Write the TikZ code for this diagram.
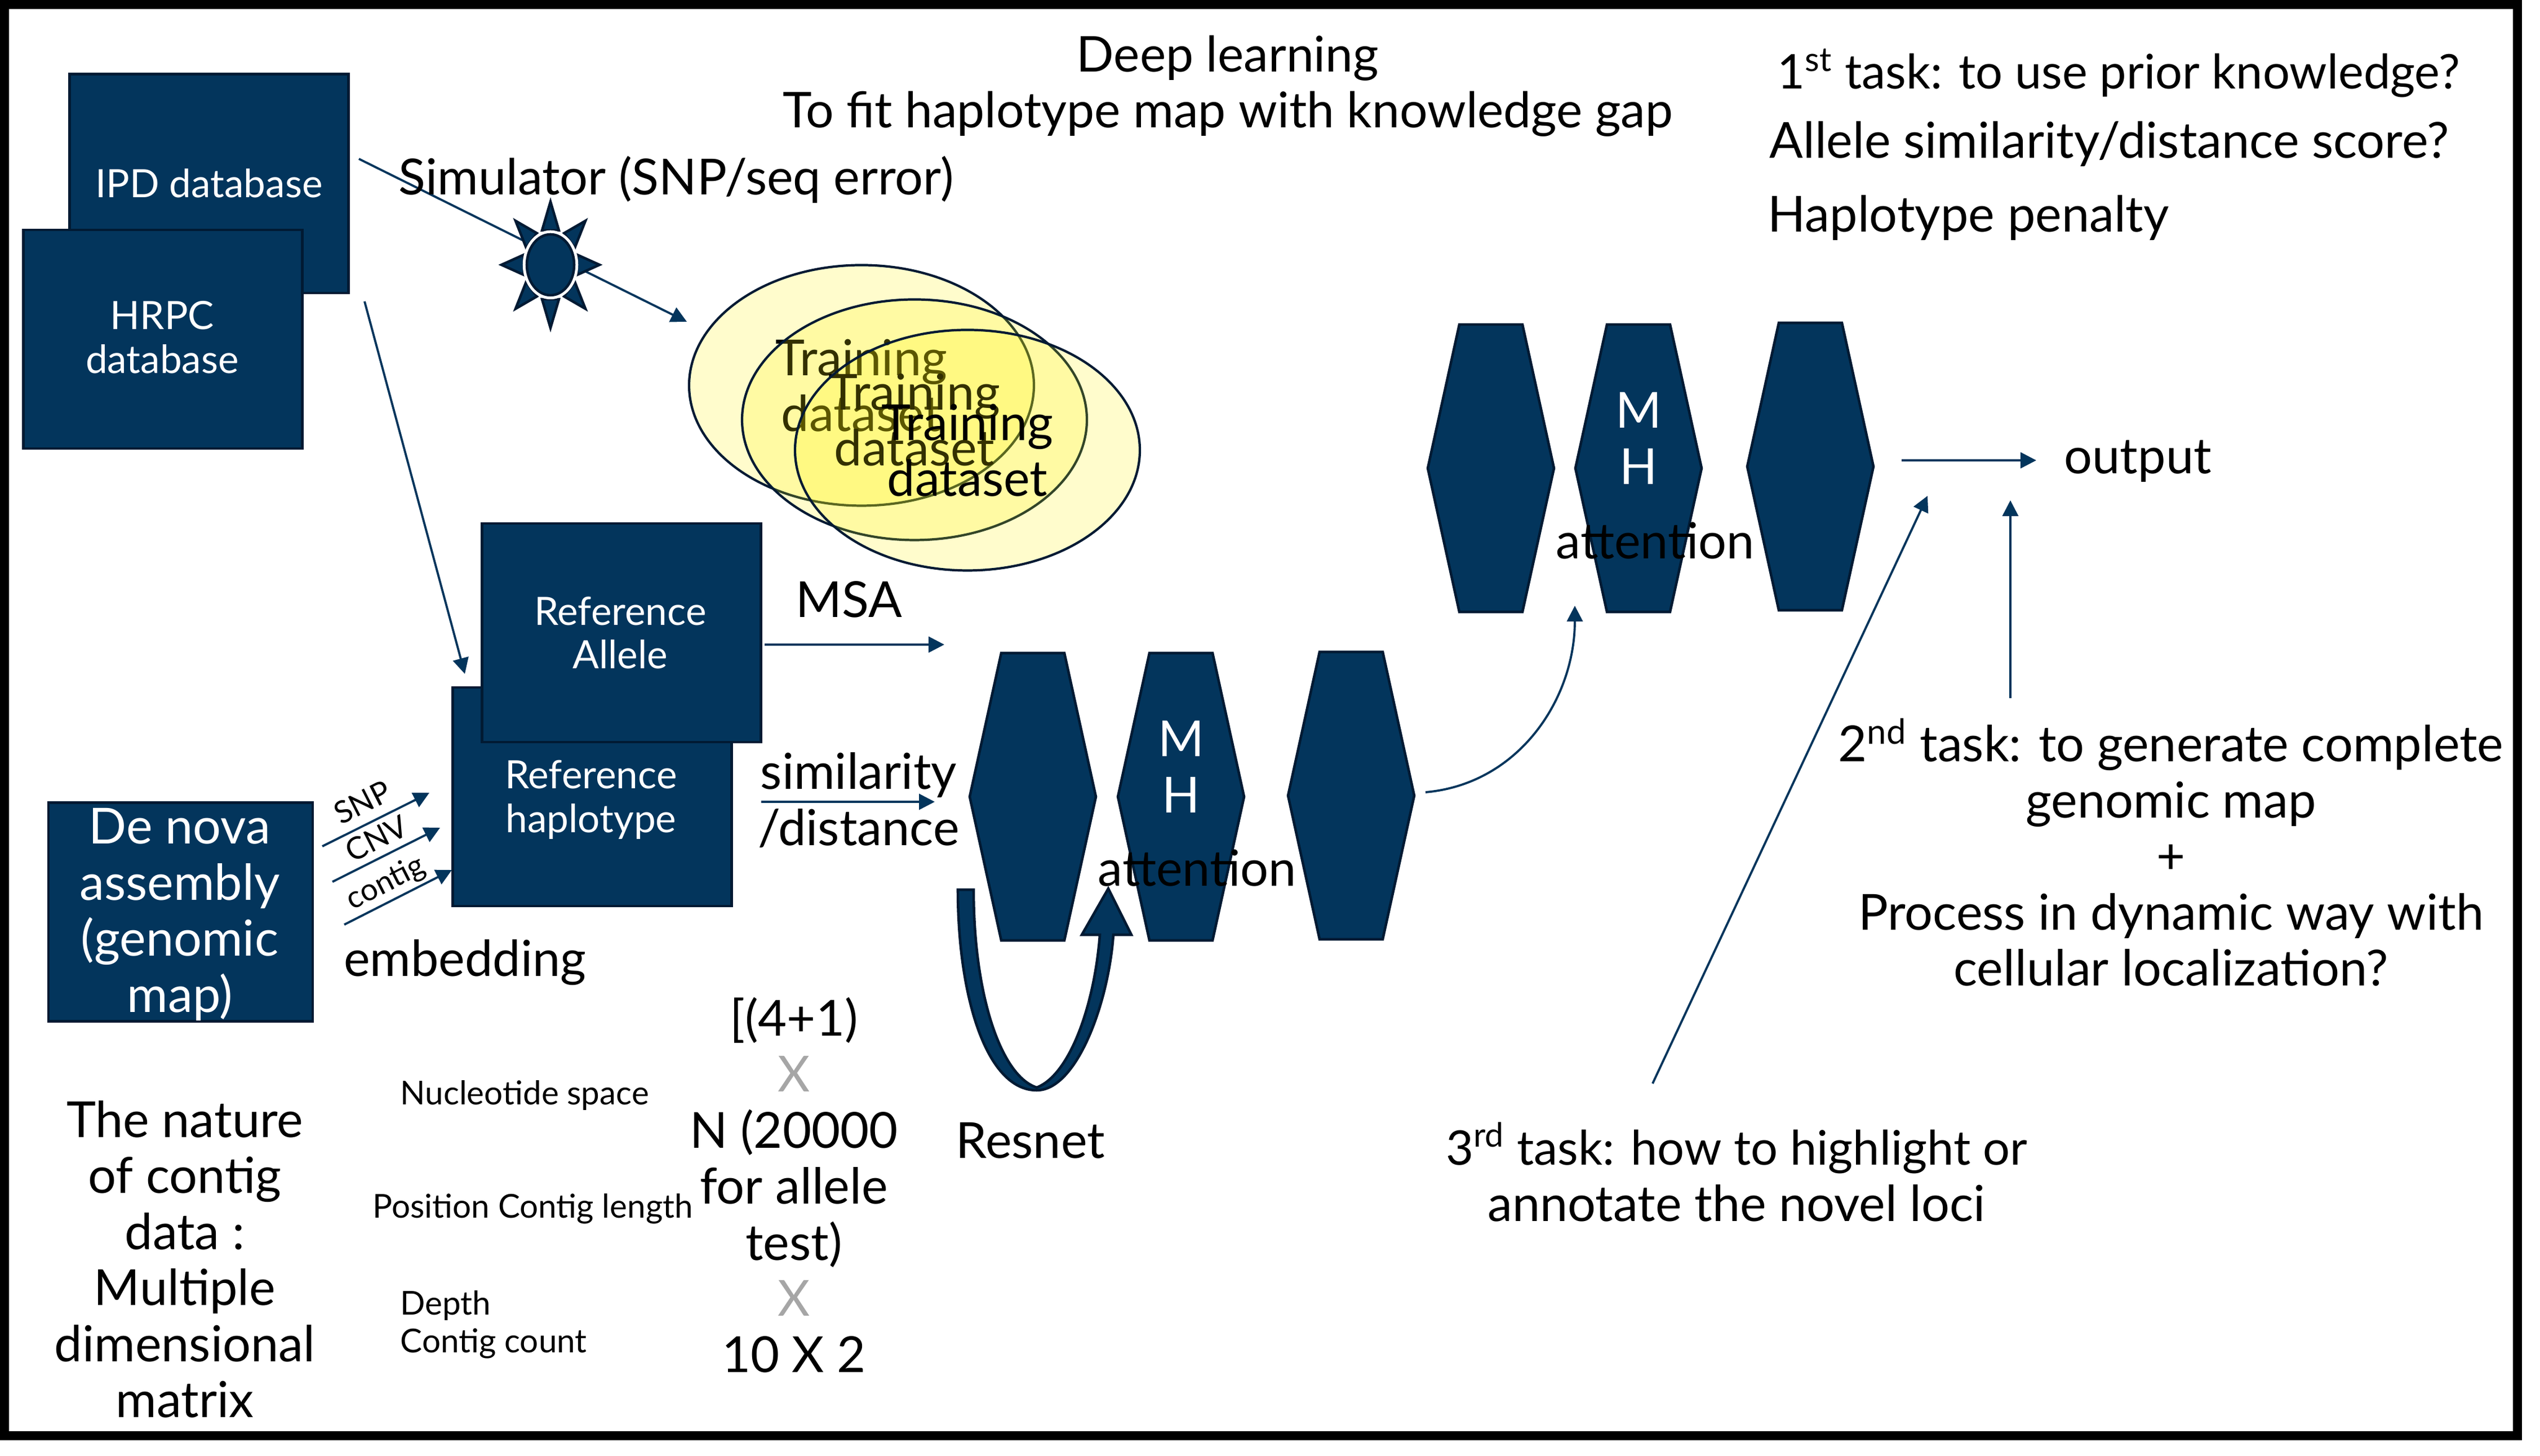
\documentclass[tikz,border=0pt]{standalone}
\usepackage{fontspec}
\setmainfont{Lato}
\usetikzlibrary{arrows.meta,shapes.geometric}
\definecolor{navy}{HTML}{03355C}
\definecolor{navyline}{HTML}{011A33}
\tikzset{
    bigtext/.style={text=black,align=center,inner sep=0pt,font=\fontsize{25.1}{28.3}\selectfont},
    midtext/.style={text=white,align=center,inner sep=0pt,font=\fontsize{19.7}{22.1}\selectfont},
    smalltext/.style={text=black,inner sep=0pt,font=\fontsize{16.6}{19}\selectfont},
    tilttext/.style={text=black,inner sep=0pt,rotate=27,font=\fontsize{15.5}{18}\selectfont},
    dbbox/.style={draw=navyline,fill=navy,line width=1.4pt,minimum width=4.95cm,minimum height=3.88cm,inner sep=0pt},
    trainset/.style={ellipse,draw=navyline,line width=1.2pt,fill=yellow,fill opacity=0.2,draw opacity=1,text opacity=1,
        minimum width=6.12cm,minimum height=4.27cm,inner sep=0pt,align=center,font=\fontsize{25.1}{28.3}\selectfont},
    link/.style={navy,line width=1.1pt,-{Triangle[length=0.28cm,width=0.28cm]}}
}
\begin{document}
\begin{tikzpicture}
    \useasboundingbox (0,0) rectangle (45.08,25.84);
    % Frame
    \draw[black,line width=0.16cm] (0.08,0.36) rectangle (44.68,25.76);

    % Simulator arrow goes behind the sun
    \coordinate (simstart) at (6.37,23.02);
    \coordinate (simend) at (12.19,20.13);
    \draw[link] (simstart) -- (simend);

    % Sun
    \begin{scope}[shift={(9.77,21.14)}]
        \foreach \sy in {1,-1} {
            \draw[navyline,fill=navy,line width=1.3pt,yscale=\sy] (0,1.12) -- (0.15,0.61) -- (-0.15,0.61) -- cycle;
        }
        \foreach \sx in {1,-1} {
            \draw[navyline,fill=navy,line width=1.3pt,xscale=\sx] (0.87,0) -- (0.47,0.18) -- (0.47,-0.18) -- cycle;
            \foreach \sy in {1,-1} {
                \draw[navyline,fill=navy,line width=1.3pt,xscale=\sx,yscale=\sy] (0.62,0.78) -- (0.24,0.56) -- (0.43,0.30) -- cycle;
            }
        }
        \draw[white,line width=3pt] (0,0) ellipse (0.44cm and 0.56cm);
        \draw[navyline,fill=navy,line width=1.3pt] (0,0) ellipse (0.42cm and 0.54cm);
    \end{scope}

    % Databases
    \node[dbbox] (ipd) at (3.71,22.58) {};
    \node[midtext] (ipdlabel) at (3.71,22.59) {IPD database};
    \node[dbbox] (hrpc) at (2.89,19.82) {};
    \node[midtext] (hrpclabel) at (2.88,19.85) {HRPC\\database};

    % Training sets, overlapping
    \node[trainset] (trainA) at (15.29,19.0) {Training\\dataset};
    \node[trainset] (trainB) at (16.23,18.39) {Training\\dataset};
    \node[trainset] (trainC) at (17.17,17.85) {Training\\dataset};

    % Reference boxes
    \node[dbbox] (haplo) at (10.51,11.70) {};
    \node[midtext] (haplolabel) at (10.49,11.65) {Reference\\haplotype};
    \node[dbbox] (allele) at (11.03,14.61) {};
    \node[midtext] (allelelabel) at (11.01,14.61) {Reference\\Allele};
    \node[dbbox,minimum width=4.69cm] (denova) at (3.205,9.655) {};
    \node[bigtext,text=white] (denovalabel) at (3.19,9.61) {De nova\\assembly\\(genomic\\map)};

    % Hexagon blocks
    \foreach \name/\cx/\cy in {hexA/18.33/11.70,hexB/20.96/11.70,hexC/23.98/11.72,hexD/26.46/17.53,hexE/29.08/17.53,hexF/32.13/17.56} {
        \coordinate (\name) at (\cx,\cy);
        \draw[navyline,fill=navy,line width=1.3pt] (\cx-1.12,\cy) -- (\cx-0.56,\cy+2.55) -- (\cx+0.56,\cy+2.55)
            -- (\cx+1.12,\cy) -- (\cx+0.56,\cy-2.55) -- (\cx-0.56,\cy-2.55) -- cycle;
    }
    \node[bigtext,text=white,yshift=0.53cm] (mhlow) at (hexB) {M\\H};
    \node[bigtext,text=white,yshift=0.53cm] (mhup) at (hexE) {M\\H};
    \node[bigtext] (attlow) at (21.25,10.43) {attention};
    \node[bigtext] (attup) at (29.38,16.24) {attention};

    % Resnet loop
    \draw[navyline,fill=navy,line width=1.3pt] (17.00,10.05) .. controls (17.00,8.17) and (17.50,6.49) .. (18.40,6.49)
        .. controls (19.10,6.49) and (19.67,8.01) .. (19.76,9.25) -- (20.08,9.25) -- (19.67,10.07) -- (19.20,9.25) -- (19.52,9.25)
        .. controls (19.43,8.04) and (19.00,6.77) .. (18.40,6.54) .. controls (17.77,6.74) and (17.28,8.17) .. (17.28,10.05) -- cycle;

    % Arrows
    \coordinate (dbstart) at (6.47,20.49);
    \coordinate (dbend) at (8.25,13.88);
    \draw[link] (dbstart) -- (dbend);
    \coordinate (snpstart) at (5.72,10.82);
    \coordinate (snpend) at (7.62,11.77);
    \draw[link] (snpstart) -- (snpend);
    \coordinate (cnvstart) at (5.90,10.19);
    \coordinate (cnvend) at (7.81,11.15);
    \draw[link] (cnvstart) -- (cnvend);
    \coordinate (contigstart) at (6.11,9.43);
    \coordinate (contigend) at (8.02,10.40);
    \draw[link] (contigstart) -- (contigend);
    \coordinate (msastart) at (13.57,14.40);
    \coordinate (msaend) at (16.76,14.40);
    \draw[link] (msastart) -- (msaend);
    \coordinate (simistart) at (13.51,11.61);
    \coordinate (simiend) at (16.59,11.61);
    \draw[link] (simistart) -- (simiend);
    \coordinate (hexout) at (25.30,11.78);
    \coordinate (hexin) at (27.95,15.09);
    \draw[link] (hexout) to[out=5,in=-90] (hexin);
    \coordinate (outstart) at (33.75,17.67);
    \coordinate (outend) at (36.14,17.67);
    \draw[link] (outstart) -- (outend);
    \coordinate (thirdstart) at (29.33,6.61);
    \coordinate (thirdend) at (34.21,17.04);
    \draw[link] (thirdstart) -- (thirdend);
    \coordinate (secondstart) at (35.68,13.45);
    \coordinate (secondend) at (35.68,16.96);
    \draw[link] (secondstart) -- (secondend);

    % Arrow labels
    \node[tilttext] (snp) at (6.43,11.60) {SNP};
    \node[tilttext] (cnv) at (6.68,10.96) {CNV};
    \node[tilttext] (contig) at (6.85,10.16) {contig};

    % Labels
    \node[bigtext,font=\fontsize{24.9}{28.3}\selectfont] (title) at (21.79,24.31) {Deep learning\\To fit haplotype map with knowledge gap};
    \node[bigtext,anchor=west,font=\fontsize{24.1}{28.3}\selectfont] (taskone) at (31.54,24.54) {1\textsuperscript{st} task: to use prior knowledge?};
    \node[bigtext,anchor=west] (allelescore) at (31.40,23.28) {Allele similarity/distance score?};
    \node[bigtext,anchor=west] (penalty) at (31.37,21.97) {Haplotype penalty};
    \node[bigtext,anchor=west] (simulator) at (7.07,22.65) {Simulator (SNP/seq error)};
    \node[bigtext,anchor=west] (msa) at (14.12,15.20) {MSA};
    \node[bigtext] (simi) at (15.24,11.64) {similarity\\/distance};
    \node[bigtext,anchor=west] (embed) at (6.095,8.76) {embedding};
    \node[bigtext,anchor=west] (resnet) at (16.96,5.60) {Resnet};
    \node[bigtext,anchor=west] (output) at (36.63,17.65) {output};
    \node[bigtext] (tasktwo) at (38.53,10.715) {2\textsuperscript{nd} task: to generate complete\\genomic map\\+\\Process in dynamic way with\\cellular localization?};
    \node[bigtext] (taskthree) at (30.82,5.04) {{\fontsize{24.1}{28.3}\selectfont 3\textsuperscript{rd} task: how to highlight or}\\annotate the novel loci};
    \node[bigtext] (nature) at (3.28,3.49) {The nature\\of contig\\data :\\Multiple\\dimensional\\matrix};
    \node[bigtext] (dims) at (14.09,4.81) {[(4+1)\\\textcolor{gray!70}{X}\\N (20000\\for allele\\test)\\\textcolor{gray!70}{X}\\10 X 2};
    \node[smalltext,anchor=west] (nucleo) at (7.10,6.40) {Nucleotide space};
    \node[smalltext,anchor=west] (poslen) at (6.61,4.39) {Position Contig length};
    \node[smalltext,anchor=west] (depth) at (7.10,2.67) {Depth};
    \node[smalltext,anchor=west] (count) at (7.10,2.00) {Contig count};
\end{tikzpicture}
\end{document}
